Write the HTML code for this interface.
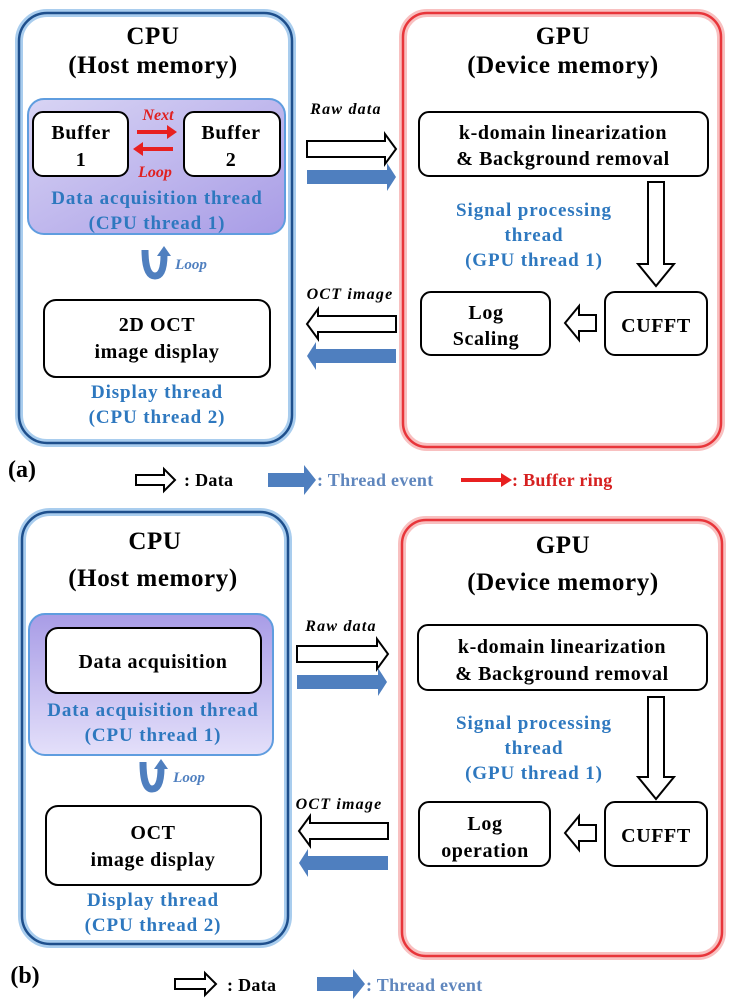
<!DOCTYPE html>
<html><head><meta charset="utf-8"><style>
html,body{margin:0;padding:0;background:#fff}
svg text{font-family:"Liberation Serif",serif;font-weight:bold}
.t{font-size:25px;letter-spacing:0.6px}
.b{font-size:20px;letter-spacing:0.6px}
.th{font-size:19px;letter-spacing:0.9px;fill:#2e78bf}
.al{font-size:16px;letter-spacing:1.2px;font-style:italic}
.lg{font-size:18px;letter-spacing:0.3px}
</style></head><body>
<svg width="738" height="1000" viewBox="0 0 738 1000" xmlns="http://www.w3.org/2000/svg">
<defs>
<linearGradient id="pg" x1="0" y1="0" x2="1" y2="1">
<stop offset="0" stop-color="#d8d4f4"/><stop offset="1" stop-color="#a89ce6"/></linearGradient>
<linearGradient id="pg2" x1="0" y1="0" x2="0" y2="1">
<stop offset="0" stop-color="#a89ce6"/><stop offset="1" stop-color="#e4e0fa"/></linearGradient>
</defs>
<g text-anchor="middle">
<!-- PANEL A -->
<rect x="19" y="13" width="273" height="430" rx="28" fill="#fff" stroke="#a9cdee" stroke-width="8"/>
<rect x="19" y="13" width="273" height="430" rx="28" fill="none" stroke="#1e4f8c" stroke-width="2.5"/>
<rect x="403" y="13" width="318" height="434" rx="24" fill="#fff" stroke="#f8c0c0" stroke-width="8"/>
<rect x="403" y="13" width="318" height="434" rx="24" fill="none" stroke="#e8353a" stroke-width="2.5"/>
<text x="153" y="44" class="t">CPU</text>
<text x="153" y="73" class="t">(Host memory)</text>
<text x="563" y="44" class="t">GPU</text>
<text x="563" y="73" class="t">(Device memory)</text>
<rect x="28" y="99" width="257" height="135" rx="16" fill="url(#pg)" stroke="#5f9ddf" stroke-width="2"/>
<rect x="33" y="112" width="95" height="64" rx="10" fill="#fff" stroke="#000" stroke-width="2"/>
<rect x="184" y="112" width="96" height="64" rx="10" fill="#fff" stroke="#000" stroke-width="2"/>
<text x="81" y="139" class="b">Buffer</text><text x="81" y="166" class="b">1</text>
<text x="231" y="139" class="b">Buffer</text><text x="231" y="166" class="b">2</text>
<text x="158" y="120" font-size="16" font-style="italic" fill="#e02020">Next</text>
<text x="155" y="177" font-size="16" font-style="italic" fill="#e02020">Loop</text>
<path d="M137 130h30v-5l10 7-10 7v-5h-30z" fill="#e82020"/>
<path d="M173 147h-30v-5l-10 7 10 7v-5h30z" fill="#e82020"/>
<text x="157" y="204" class="th">Data acquisition thread</text>
<text x="157" y="229" class="th">(CPU thread 1)</text>
<path d="M145 250 Q145 276 155 276 Q164 276 164 255" fill="none" stroke="#4f7fbf" stroke-width="7"/>
<path d="M157 256 l7 -10 7 10z" fill="#4f7fbf"/>
<text x="191" y="269" font-size="15" font-style="italic" fill="#4f7fbf">Loop</text>
<rect x="44" y="300" width="226" height="77" rx="12" fill="#fff" stroke="#000" stroke-width="2"/>
<text x="157" y="331" class="b">2D OCT</text><text x="157" y="358" class="b">image display</text>
<text x="157" y="398" class="th">Display thread</text>
<text x="157" y="423" class="th">(CPU thread 2)</text>
<text x="346" y="114" class="al">Raw data</text>
<path d="M307 141h78v-7l11 15-11 15v-7h-78z" fill="#fff" stroke="#000" stroke-width="2"/>
<path d="M307 170h80v-7l9 14-9 14v-7h-80z" fill="#4f7fbf"/>
<text x="350" y="299" class="al">OCT image</text>
<path d="M396 316h-78v-7l-11 15 11 15v-7h78z" fill="#fff" stroke="#000" stroke-width="2"/>
<path d="M396 349h-80v-7l-9 14 9 14v-7h80z" fill="#4f7fbf"/>
<rect x="419" y="112" width="289" height="64" rx="10" fill="#fff" stroke="#000" stroke-width="2"/>
<text x="563" y="139" class="b">k-domain linearization</text>
<text x="563" y="165" class="b">&amp; Background  removal</text>
<text x="534" y="216" class="th">Signal processing</text>
<text x="534" y="241" class="th">thread</text>
<text x="534" y="266" class="th">(GPU thread 1)</text>
<path d="M648 182h16v82h10l-18 22-18-22h10z" fill="#fff" stroke="#000" stroke-width="2"/>
<rect x="421" y="292" width="129" height="63" rx="10" fill="#fff" stroke="#000" stroke-width="2"/>
<text x="486" y="319" class="b">Log</text><text x="486" y="345" class="b">Scaling</text>
<rect x="605" y="292" width="102" height="63" rx="10" fill="#fff" stroke="#000" stroke-width="2"/>
<text x="656" y="332" class="b">CUFFT</text>
<path d="M596 315h-17v-9l-14 17 14 17v-9h17z" fill="#fff" stroke="#000" stroke-width="2"/>
<text x="22" y="477" font-size="24" font-weight="normal" fill="#000">(a)</text>
<g text-anchor="start">
<path d="M136 475h28v-6l11 11-11 11v-6h-28z" fill="#fff" stroke="#000" stroke-width="2"/>
<text x="184" y="486" class="lg">: Data</text>
<path d="M268 473h36v-8l12 15-12 15v-8h-36z" fill="#4f7fbf"/>
<text x="317" y="486" class="lg" fill="#5f86bd">: Thread event</text>
<path d="M461 478h40v-5l11 7-11 7v-5h-40z" fill="#e82020"/>
<text x="512" y="486" class="lg" fill="#d62020">: Buffer ring</text>
</g>

<!-- PANEL B -->
<rect x="22" y="512" width="266" height="432" rx="28" fill="#fff" stroke="#a9cdee" stroke-width="8"/>
<rect x="22" y="512" width="266" height="432" rx="28" fill="none" stroke="#1e4f8c" stroke-width="2.5"/>
<rect x="402" y="520" width="320" height="436" rx="24" fill="#fff" stroke="#f8c0c0" stroke-width="8"/>
<rect x="402" y="520" width="320" height="436" rx="24" fill="none" stroke="#e8353a" stroke-width="2.5"/>
<text x="155" y="549" class="t">CPU</text>
<text x="153" y="586" class="t">(Host memory)</text>
<text x="563" y="553" class="t">GPU</text>
<text x="563" y="590" class="t">(Device memory)</text>
<rect x="29" y="614" width="244" height="141" rx="16" fill="url(#pg2)" stroke="#5f9ddf" stroke-width="2"/>
<rect x="46" y="628" width="215" height="65" rx="12" fill="#fff" stroke="#000" stroke-width="2"/>
<text x="153" y="668" class="b">Data acquisition</text>
<text x="153" y="716" class="th">Data acquisition thread</text>
<text x="153" y="741" class="th">(CPU thread 1)</text>
<path d="M143 762 Q143 789 152 789 Q161 789 161 768" fill="none" stroke="#4f7fbf" stroke-width="7"/>
<path d="M154 769 l7 -10 7 10z" fill="#4f7fbf"/>
<text x="189" y="782" font-size="15" font-style="italic" fill="#4f7fbf">Loop</text>
<rect x="46" y="806" width="215" height="79" rx="12" fill="#fff" stroke="#000" stroke-width="2"/>
<text x="153" y="839" class="b">OCT</text><text x="153" y="866" class="b">image display</text>
<text x="153" y="906" class="th">Display thread</text>
<text x="153" y="931" class="th">(CPU thread 2)</text>
<text x="341" y="631" class="al">Raw data</text>
<path d="M297 646h80v-7l11 15-11 15v-7h-80z" fill="#fff" stroke="#000" stroke-width="2"/>
<path d="M297 675h81v-7l9 14-9 14v-7h-81z" fill="#4f7fbf"/>
<text x="339" y="809" class="al">OCT image</text>
<path d="M388 823h-78v-7l-11 15 11 15v-7h78z" fill="#fff" stroke="#000" stroke-width="2"/>
<path d="M388 856h-80v-7l-9 14 9 14v-7h80z" fill="#4f7fbf"/>
<rect x="418" y="625" width="289" height="65" rx="10" fill="#fff" stroke="#000" stroke-width="2"/>
<text x="562" y="653" class="b">k-domain linearization</text>
<text x="562" y="680" class="b">&amp; Background  removal</text>
<text x="534" y="729" class="th">Signal processing</text>
<text x="534" y="754" class="th">thread</text>
<text x="534" y="779" class="th">(GPU thread 1)</text>
<path d="M648 697h16v80h10l-18 22-18-22h10z" fill="#fff" stroke="#000" stroke-width="2"/>
<rect x="419" y="802" width="131" height="64" rx="10" fill="#fff" stroke="#000" stroke-width="2"/>
<text x="485" y="830" class="b">Log</text><text x="485" y="857" class="b">operation</text>
<rect x="605" y="802" width="102" height="64" rx="10" fill="#fff" stroke="#000" stroke-width="2"/>
<text x="656" y="842" class="b">CUFFT</text>
<path d="M596 825h-17v-9l-14 17 14 17v-9h17z" fill="#fff" stroke="#000" stroke-width="2"/>
<text x="25" y="983" font-size="24" font-weight="normal">(b)</text>
<g text-anchor="start">
<path d="M175 979h30v-6l11 11-11 11v-6h-30z" fill="#fff" stroke="#000" stroke-width="2"/>
<text x="227" y="991" class="lg">: Data</text>
<path d="M317 977h36v-8l12 15-12 15v-8h-36z" fill="#4f7fbf"/>
<text x="366" y="991" class="lg" fill="#5f86bd">: Thread event</text>
</g>
</g>
</svg>
</body></html>
